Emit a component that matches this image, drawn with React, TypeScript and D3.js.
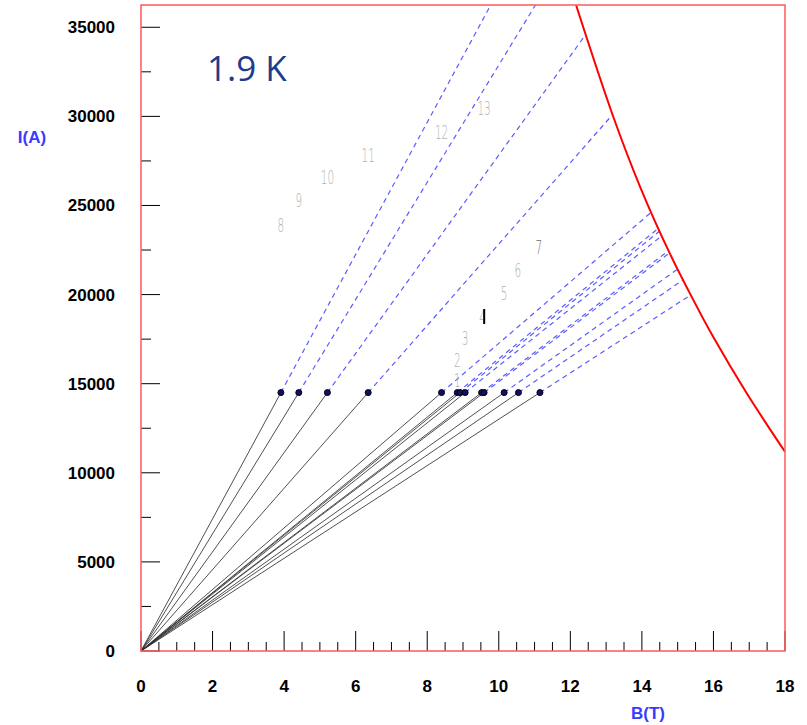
import { useEffect, useRef } from "react"
import * as d3 from "d3"

// magnet working points (B at the dot, all at the same current)
const magnetIds = ["1", "2", "3", "4", "5", "6", "7", "8", "9", "10", "11", "12", "13"]
const magnetB = [8.84, 8.92, 9.06, 9.52, 10.15, 10.55, 11.15, 3.91, 4.41, 5.21, 6.35, 8.4, 9.59]
const operatingCurrent = 14500

// label positions for each magnet number
const labelB = [8.84, 8.84, 9.06, 9.55, 10.15, 10.53, 11.12, 3.91, 4.41, 5.21, 6.35, 8.4, 9.59]
const labelI = [15200, 16330, 17560, 18740, 20090, 21380, 22670, 23900, 25300, 26600, 27830, 29120, 30470]

// critical surface at 1.9 K
const criticalB = [12.16, 13.2, 13.95, 14.78, 15.44, 16.0, 16.93, 18.0]
const criticalI = [36250, 29980, 26050, 22310, 19690, 17600, 14460, 11180]

const xTickLabels = [0, 2, 4, 6, 8, 10, 12, 14, 16, 18]
const yTickLabels = [0, 5000, 10000, 15000, 20000, 25000, 30000, 35000]

export default function App() {
  const svgRef = useRef<SVGSVGElement>(null)

  useEffect(() => {
    if (!svgRef.current) return
    const svg = d3.select(svgRef.current)
    svg.selectAll("*").remove()

    const left = 141
    const right = 785
    const top = 5
    const bottom = 651
    const yMax = 36250

    const x = d3.scaleLinear().domain([0, 18]).range([left, right])
    const y = d3.scaleLinear().domain([0, yMax]).range([bottom, top])

    svg.append("defs")
      .append("clipPath")
      .attr("id", "plot-clip")
      .append("rect")
      .attr("x", left)
      .attr("y", top)
      .attr("width", right - left)
      .attr("height", bottom - top)

    // minor + major ticks
    const xMinor = d3.range(0, 18.001, 0.5)
    svg.append("g")
      .selectAll("line")
      .data(xMinor)
      .enter()
      .append("line")
      .attr("x1", (d) => x(d))
      .attr("x2", (d) => x(d))
      .attr("y1", bottom)
      .attr("y2", (d) => (d % 2 === 0 ? bottom - 20 : bottom - 9))
      .attr("stroke", "#000")
      .attr("stroke-width", 1)

    const yMinor = d3.range(0, yMax, 2500)
    svg.append("g")
      .selectAll("line")
      .data(yMinor)
      .enter()
      .append("line")
      .attr("x1", left)
      .attr("x2", (d) => (d % 5000 === 0 ? left + 19 : left + 10))
      .attr("y1", (d) => y(d))
      .attr("y2", (d) => y(d))
      .attr("stroke", "#000")
      .attr("stroke-width", 1)

    svg.append("g")
      .selectAll("text")
      .data(xTickLabels)
      .enter()
      .append("text")
      .attr("x", (d) => x(d))
      .attr("y", 692)
      .attr("text-anchor", "middle")
      .style("font-family", "'Liberation Sans', Arial, sans-serif")
      .style("font-weight", "bold")
      .style("font-size", "17px")
      .style("fill", "#000")
      .text((d) => d)

    svg.append("g")
      .selectAll("text")
      .data(yTickLabels)
      .enter()
      .append("text")
      .attr("x", 115)
      .attr("y", (d) => y(d) + 6)
      .attr("text-anchor", "end")
      .style("font-family", "'Liberation Sans', Arial, sans-serif")
      .style("font-weight", "bold")
      .style("font-size", "17px")
      .style("fill", "#000")
      .text((d) => d)

    svg.append("text")
      .attr("x", 32)
      .attr("y", 143)
      .attr("text-anchor", "middle")
      .style("font-family", "'Liberation Sans', Arial, sans-serif")
      .style("font-weight", "bold")
      .style("font-size", "17px")
      .style("fill", "#3a3aff")
      .text("I(A)")

    svg.append("text")
      .attr("x", 648)
      .attr("y", 719)
      .attr("text-anchor", "middle")
      .style("font-family", "'Liberation Sans', Arial, sans-serif")
      .style("font-weight", "bold")
      .style("font-size", "17px")
      .style("fill", "#3a3aff")
      .text("B(T)")

    const plot = svg.append("g").attr("clip-path", "url(#plot-clip)")

    // where each load line meets the critical curve (or the top of the frame)
    const curvePts = criticalB.map((b, i) => [b, criticalI[i]] as [number, number])
    const endOf = (slope: number) => {
      let best = yMax / slope
      for (let i = 0; i < curvePts.length - 1; i++) {
        const [b0, i0] = curvePts[i]
        const [b1, i1] = curvePts[i + 1]
        const f0 = slope * b0 - i0
        const f1 = slope * b1 - i1
        if (f0 <= 0 && f1 >= 0) {
          const t = f0 / (f0 - f1)
          const b = b0 + t * (b1 - b0)
          if (b < best) best = b
        }
      }
      return best
    }

    const magnets = magnetB.map((b, i) => {
      const slope = operatingCurrent / b
      const bEnd = endOf(slope)
      return { id: magnetIds[i], b, slope, bEnd, iEnd: slope * bEnd }
    })

    plot.selectAll(".load-solid")
      .data(magnets)
      .enter()
      .append("line")
      .attr("class", "load-solid")
      .attr("x1", x(0))
      .attr("y1", y(0))
      .attr("x2", (d) => x(d.b))
      .attr("y2", y(operatingCurrent))
      .attr("stroke", "#333")
      .attr("stroke-width", 1)
      .attr("opacity", 0.85)

    plot.selectAll(".load-dash")
      .data(magnets)
      .enter()
      .append("line")
      .attr("class", "load-dash")
      .attr("x1", (d) => x(d.b))
      .attr("y1", y(operatingCurrent))
      .attr("x2", (d) => x(d.bEnd))
      .attr("y2", (d) => y(d.iEnd))
      .attr("stroke", "#5c5cff")
      .attr("stroke-width", 1.2)
      .attr("stroke-dasharray", "5,4")

    const curveLine = d3
      .line<[number, number]>()
      .x((d) => x(d[0]))
      .y((d) => y(d[1]))
      .curve(d3.curveCatmullRom)

    plot.append("path")
      .datum(curvePts)
      .attr("fill", "none")
      .attr("stroke", "#ff0000")
      .attr("stroke-width", 2)
      .attr("d", curveLine)

    plot.selectAll(".dot")
      .data(magnets)
      .enter()
      .append("circle")
      .attr("class", "dot")
      .attr("cx", (d) => x(d.b))
      .attr("cy", y(operatingCurrent))
      .attr("r", 3)
      .attr("fill", "#10106a")
      .attr("stroke", "#000")
      .attr("stroke-width", 1)

    // magnet number labels (thin, condensed)
    const labels = svg.append("g")
    labelB.forEach((b, i) => {
      const id = magnetIds[i]
      labels
        .append("text")
        .attr("transform", `translate(${x(b)},${y(labelI[i]) + 7}) scale(0.55,1)`)
        .attr("text-anchor", "middle")
        .style("font-family", "'DejaVu Sans', sans-serif")
        .style("font-weight", 200)
        .style("font-size", "19px")
        .style("fill", id === "7" ? "#6a6a6a" : "#b0b0b0")
        .text(id)
      if (id === "4") {
        labels
          .append("line")
          .attr("x1", x(b) + 1.5)
          .attr("x2", x(b) + 1.5)
          .attr("y1", y(labelI[i]) - 8)
          .attr("y2", y(labelI[i]) + 7)
          .attr("stroke", "#000")
          .attr("stroke-width", 2)
      }
    })

    svg.append("text")
      .attr("x", 207)
      .attr("y", 81)
      .style("font-family", "'Open Sans', 'Noto Sans', sans-serif")
      .style("font-size", "35px")
      .style("fill", "#1f3c8c")
      .text("1.9 K")

    // red frame
    svg.append("rect")
      .attr("x", left)
      .attr("y", top)
      .attr("width", right - left)
      .attr("height", bottom - top)
      .attr("fill", "none")
      .attr("stroke", "#ff5a5a")
      .attr("stroke-width", 1.5)
  }, [])

  return (
    <svg
      ref={svgRef}
      width={807}
      height={725}
      style={{ position: "absolute", left: 0, top: 0, background: "#fff" }}
    ></svg>
  )
}
